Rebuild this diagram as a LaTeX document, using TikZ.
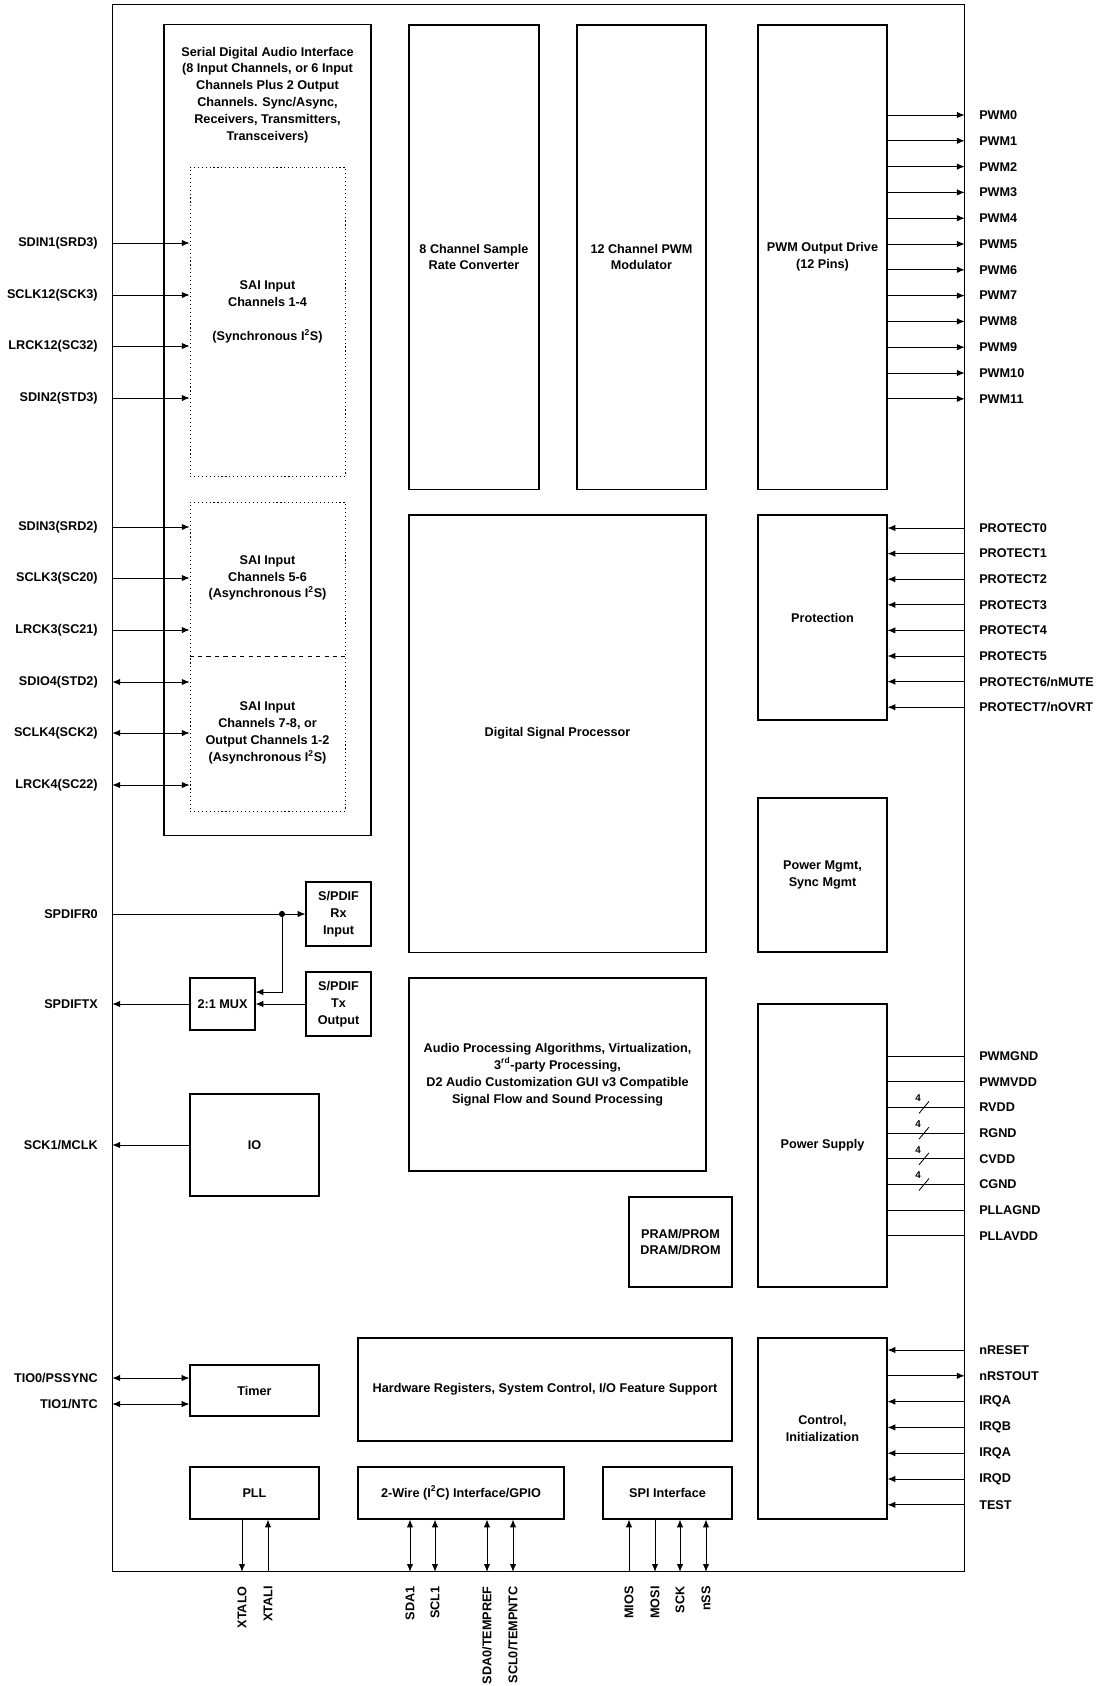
\documentclass[tikz,border=0pt]{standalone}
\usepackage{fontspec}
\setmainfont{Liberation Sans}
\usetikzlibrary{arrows.meta}

\tikzset{
  blk/.style={draw, line width=0.8pt, inner sep=1pt, align=center, font=\fontsize{9}{12}\selectfont\bfseries},
  txt/.style={align=center, inner sep=0pt, font=\fontsize{9}{12}\selectfont\bfseries},
  pin/.style={inner sep=0pt, font=\fontsize{9}{12}\selectfont\bfseries},
  arr/.style={line width=0.6pt, -{Latex[length=5.5pt,width=4.5pt]}},
  rarr/.style={line width=0.6pt, {Latex[length=5.5pt,width=4.5pt]}-},
  darr/.style={line width=0.6pt, {Latex[length=5.5pt,width=4.5pt]}-{Latex[length=5.5pt,width=4.5pt]}},
  wire/.style={line width=0.6pt},
}

\begin{document}
\begin{tikzpicture}[x=0.025cm, y=-0.025cm]
\useasboundingbox (0,0) rectangle (1100,1686);

% Chip outline
\node[blk, minimum width=21.275cm, minimum height=39.15cm] at (538.5,788) (chip) {};

% Serial audio interface
\node[blk, minimum width=5.175cm, minimum height=20.25cm] at (267.5,430) (sai) {};
\node[txt] at (267.5,95) (saitxt) {Serial Digital Audio Interface\\(8 Input Channels, or 6 Input\\Channels Plus 2 Output\\Channels. Sync/Async,\\Receivers, Transmitters,\\Transceivers)};
\node[blk, dotted, line width=0.6pt, minimum width=3.875cm, minimum height=7.725cm] at (267.5,321.5) (saiA) {};
\node[txt] at (267.5,312) (saiAtxt) {SAI Input\\Channels 1-4\\[12pt](Synchronous I\textsuperscript{2}S)};
\node[blk, dotted, line width=0.6pt, minimum width=3.875cm, minimum height=7.725cm] at (267.5,656.5) (saiB) {};
\draw[wire, dashed] (saiB.west |- 0,656) -- (saiB.east |- 0,656);
\node[txt] at (267.5,578) (saiBtxt) {SAI Input\\Channels 5-6\\(Asynchronous I\textsuperscript{2}S)};
\node[txt] at (267.5,733) (saiCtxt) {SAI Input\\Channels 7-8, or\\Output Channels 1-2\\(Asynchronous I\textsuperscript{2}S)};

% Top row
\node[blk, minimum width=3.25cm, minimum height=11.6cm] at (474,257) (src) {8 Channel Sample\\Rate Converter};
\node[blk, minimum width=3.225cm, minimum height=11.6cm] at (641.5,257) (pwmmod) {12 Channel PWM\\Modulator};
\node[blk, minimum width=3.225cm, minimum height=11.6cm] at (822.5,257) (pwmdrv) {PWM Output Drive\\(12 Pins)};

% Middle blocks
\node[blk, minimum width=7.425cm, minimum height=10.925cm] at (557.5,733.5) (dsp) {Digital Signal Processor};
\node[blk, minimum width=3.225cm, minimum height=5.125cm] at (822.5,617.5) (prot) {Protection};
\node[blk, minimum width=3.225cm, minimum height=3.85cm] at (822.5,875) (pmgmt) {Power Mgmt,\\Sync Mgmt};
\node[blk, minimum width=7.425cm, minimum height=4.825cm] at (557.5,1074.5) (algo) {Audio Processing Algorithms, Virtualization,\\3\textsuperscript{rd}-party Processing,\\D2 Audio Customization GUI v3 Compatible\\Signal Flow and Sound Processing};
\node[blk, minimum width=3.225cm, minimum height=7.075cm] at (822.5,1145.5) (psu) {Power Supply};
\node[blk, minimum width=2.575cm, minimum height=2.25cm] at (680.5,1242) (mem) {PRAM/PROM\\DRAM/DROM};

% S/PDIF and IO
\node[blk, minimum width=1.625cm, minimum height=1.6cm] at (338.5,914) (rx) {S/PDIF\\Rx\\Input};
\node[blk, minimum width=1.625cm, minimum height=1.6cm] at (338.5,1004) (tx) {S/PDIF\\Tx\\Output};
\node[blk, minimum width=1.625cm, minimum height=1.3cm] at (222.5,1004) (mux) {2:1 MUX};
\node[blk, minimum width=3.225cm, minimum height=2.55cm] at (254.5,1145) (io) {IO};

% Bottom blocks
\node[blk, minimum width=3.225cm, minimum height=1.275cm] at (254.5,1390.5) (timer) {Timer};
\node[blk, minimum width=3.225cm, minimum height=1.3cm] at (254.5,1493) (pll) {PLL};
\node[blk, minimum width=9.35cm, minimum height=2.575cm] at (545,1389.5) (hwreg) {Hardware Registers, System Control, I/O Feature Support};
\node[blk, minimum width=5.15cm, minimum height=1.3cm] at (461,1493) (twi) {2-Wire (I\textsuperscript{2}C) Interface/GPIO};
\node[blk, minimum width=3.225cm, minimum height=1.3cm] at (667.5,1493) (spi) {SPI Interface};
\node[blk, minimum width=3.225cm, minimum height=4.525cm] at (822.5,1428.5) (ctrl) {Control,\\Initialization};

% Left pins into SAI
\foreach \i/\t/\y in {1/SDIN1(SRD3)/243, 2/SCLK12(SCK3)/295, 3/LRCK12(SC32)/346, 4/SDIN2(STD3)/398}{
  \node[pin, anchor=east] at (98,\y) (sa\i) {\t};
  \draw[arr] (chip.west |- sa\i) -- (saiA.west |- sa\i);
}
\foreach \i/\t/\y/\s in {5/SDIN3(SRD2)/527/arr, 6/SCLK3(SC20)/578/arr, 7/LRCK3(SC21)/630/arr, 8/SDIO4(STD2)/682/darr, 9/SCLK4(SCK2)/733/darr, 10/LRCK4(SC22)/785/darr}{
  \node[pin, anchor=east] at (98,\y) (sa\i) {\t};
  \draw[\s] (chip.west |- sa\i) -- (saiB.west |- sa\i);
}

% S/PDIF
\node[pin, anchor=east] at (98,914) (spdifr) {SPDIFR0};
\node[pin, anchor=east] at (98,1004) (spdift) {SPDIFTX};
\coordinate (jn) at (282,914);
\draw[arr] (chip.west |- spdifr) -- (rx.west);
\fill (jn) circle (2.2pt);
\draw[arr] (jn) |- ([yshift=8.5pt]mux.east);
\draw[arr] (tx.west) -- (mux.east);
\draw[arr] (mux.west) -- (chip.west |- mux.west);
\node[pin, anchor=east] at (98,1145) (mclk) {SCK1/MCLK};
\draw[arr] (io.west) -- (chip.west |- io.west);

% Timer
\node[pin, anchor=east] at (98,1378) (tio0) {TIO0/PSSYNC};
\node[pin, anchor=east] at (98,1404) (tio1) {TIO1/NTC};
\draw[darr] (chip.west |- tio0) -- (timer.west |- tio0);
\draw[darr] (chip.west |- tio1) -- (timer.west |- tio1);

% PWM outputs
\foreach \i in {0,...,11}{
  \node[pin, anchor=west] at (979,{115+25.8*\i}) (pwm\i) {PWM\i};
  \draw[arr] (pwmdrv.east |- pwm\i) -- (chip.east |- pwm\i);
}

% Protection inputs
\foreach \i/\t in {0/PROTECT0, 1/PROTECT1, 2/PROTECT2, 3/PROTECT3, 4/PROTECT4, 5/PROTECT5, 6/{PROTECT6/nMUTE}, 7/{PROTECT7/nOVRT}}{
  \node[pin, anchor=west] at (979,{528+25.6*\i}) (pr\i) {\t};
  \draw[rarr] (prot.east |- pr\i) -- (chip.east |- pr\i);
}

% Supply pins
\foreach \i/\t in {0/PWMGND, 1/PWMVDD, 2/RVDD, 3/RGND, 4/CVDD, 5/CGND, 6/PLLAGND, 7/PLLAVDD}{
  \node[pin, anchor=west] at (979,{1056+25.7*\i}) (pw\i) {\t};
  \draw[wire] (psu.east |- pw\i) -- (chip.east |- pw\i);
}
\foreach \i in {2,...,5}{
  \draw[wire] (919,{1056+25.7*\i+6}) -- (929,{1056+25.7*\i-6});
  \node[font=\fontsize{7}{8}\selectfont\bfseries, inner sep=0pt] at (918,{1056+25.7*\i-9}) (bus\i) {4};
}

% Control pins
\foreach \i/\t/\s in {0/nRESET/rarr, 1/nRSTOUT/arr, 2/IRQA/rarr, 3/IRQB/rarr, 4/IRQA/rarr, 5/IRQD/rarr, 6/TEST/rarr}{
  \node[pin, anchor=west] at (979,{1350+25.8*\i}) (ct\i) {\t};
  \draw[\s] (ctrl.east |- ct\i) -- (chip.east |- ct\i);
}

% Bottom pins
\foreach \n/\t/\x in {xo/XTALO/242, xi/XTALI/268, sda/SDA1/410, scl/SCL1/435, sdat/SDA0\slash TEMPREF/487, sclt/SCL0\slash TEMPNTC/513, miso/MIOS/629, mosi/MOSI/655, sck/SCK/680, nss/nSS/706}{
  \node[pin, rotate=90, anchor=east] at (\x,1586) (\n) {\t};
}
\draw[arr] (pll.south -| xo) -- (chip.south -| xo);
\draw[rarr] (pll.south -| xi) -- (chip.south -| xi);
\draw[darr] (twi.south -| sda) -- (chip.south -| sda);
\draw[darr] (twi.south -| scl) -- (chip.south -| scl);
\draw[darr] (twi.south -| sdat) -- (chip.south -| sdat);
\draw[darr] (twi.south -| sclt) -- (chip.south -| sclt);
\draw[rarr] (spi.south -| miso) -- (chip.south -| miso);
\draw[arr] (spi.south -| mosi) -- (chip.south -| mosi);
\draw[darr] (spi.south -| sck) -- (chip.south -| sck);
\draw[darr] (spi.south -| nss) -- (chip.south -| nss);
\end{tikzpicture}
\end{document}
